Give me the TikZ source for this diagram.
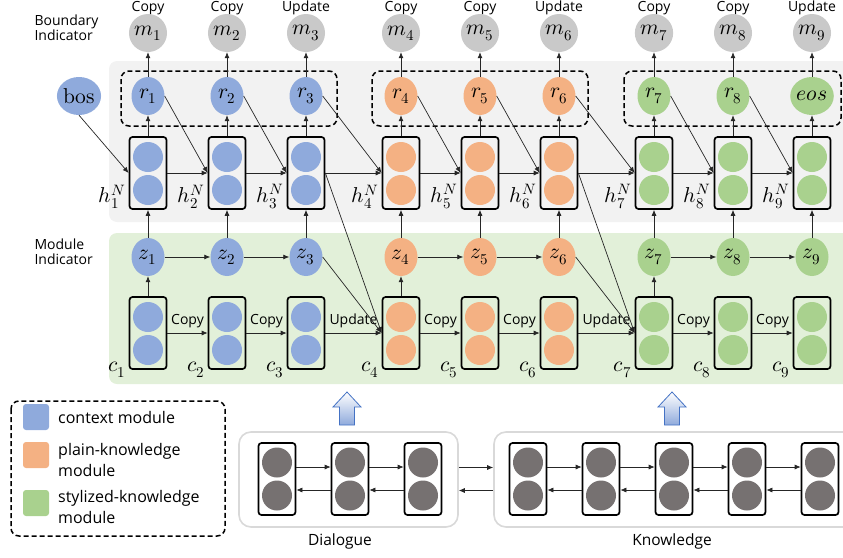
\documentclass[tikz,border=0pt]{standalone}
\usepackage{fontspec}
\usepackage{unicode-math}
\setmainfont{Open Sans}
\setmathfont{Latin Modern Math}
\usepackage{xcolor}
\usepackage{tikz}
\usetikzlibrary{arrows.meta}
\usetikzlibrary{shapes.geometric}
\definecolor{ctxblue}{HTML}{8FAADC}
\definecolor{plainorange}{HTML}{F4B183}
\definecolor{stylegreen}{HTML}{A9D18E}
\definecolor{bndgray}{HTML}{C9C9C9}
\definecolor{encgray}{HTML}{767171}
\definecolor{upperbg}{HTML}{F2F2F2}
\definecolor{lowerbg}{HTML}{E2F0D9}
\definecolor{panelline}{HTML}{D9D9D9}
\definecolor{blockblue}{HTML}{4472C4}
\tikzset{
  unit/.style={ellipse,minimum width=33pt,minimum height=38pt,inner sep=0pt,font=\fontsize{21.5}{23}\selectfont},
  cell/.style={draw,line width=1.7pt,rounded corners=3pt,minimum width=37pt,minimum height=72pt,inner sep=0pt},
  dot/.style={circle,minimum size=30pt,inner sep=0pt},
  arr/.style={-{Latex[length=6pt,width=5pt]},line width=0.7pt,draw=black!85},
  lbl/.style={font=\fontsize{14}{16}\selectfont},
  var/.style={font=\fontsize{21.5}{23}\selectfont,inner sep=1pt},
  groupbox/.style={dash pattern=on 5pt off 3pt,line width=1.5pt,rounded corners=8pt},
  panel/.style={draw=panelline,line width=1.6pt,rounded corners=12pt,fill=white},
  swatch/.style={rounded corners=3pt,minimum size=26pt,inner sep=0pt}
}

\begin{document}
\begin{tikzpicture}[x=1pt,y=-1pt]
    \useasboundingbox (0,0) rectangle (843,557);
    % backgrounds
    \fill[upperbg,rounded corners=8pt] (109,61) rectangle (870,222);
    \fill[lowerbg,rounded corners=8pt] (109,233) rectangle (870,384);
    \node[lbl,align=left,anchor=west] (bndtxt) at (31,28) {Boundary\\[-1pt]Indicator};
    \node[lbl,align=left,anchor=west] (modtxt) at (31,252) {Module\\[-1pt]Indicator};
    % dashed groups
    \draw[groupbox] (121,71) rectangle (337,126);
    \draw[groupbox] (372,71) rectangle (588,126);
    \draw[groupbox] (624,71) rectangle (841,126);
    \node[unit,fill=ctxblue] (bos) at (79,96) {$\symup{bos}$};
    % columns
    \foreach \i/\x/\col/\mop/\rl in {1/148/ctxblue/Copy/r_1,2/227/ctxblue/Copy/r_2,3/306/ctxblue/Update/r_3,
        4/401/plainorange/Copy/r_4,5/480/plainorange/Copy/r_5,6/559/plainorange/Update/r_6,
        7/654/stylegreen/Copy/r_7,8/733/stylegreen/Copy/r_8,9/812/stylegreen/Update/eos}{
        \node[lbl] (op\i) at (\x,8) {\mop};
        \node[unit,fill=bndgray] (m\i) at (\x,33) {$m_{\i}$};
        \node[unit,fill=\col] (r\i) at (\x,96) {$\rl$};
        \node[cell] (h\i) at (\x,173) {};
        \node[dot,fill=\col] (ht\i) at (\x,157) {};
        \node[dot,fill=\col] (hb\i) at (\x,190) {};
        \node[var,anchor=south east] (hl\i) at ([xshift=-2pt]h\i.south west) {$h_{\i}^{N}$};
        \node[unit,fill=\col] (z\i) at (\x,257) {$z_{\i}$};
        \node[cell] (c\i) at (\x,333) {};
        \node[dot,fill=\col] (ct\i) at (\x,317) {};
        \node[dot,fill=\col] (cb\i) at (\x,350) {};
        \node[var,anchor=east] (cl\i) at ([xshift=-2pt]c\i.south west) {$c_{\i}$};
        \draw[arr] (h\i) -- (r\i);
        \draw[arr] (r\i) -- (m\i);
        \draw[arr] (z\i) -- (h\i);
    }
    % connectors
    \draw[arr] (bos.south) -- (h1.west);
    \foreach \i/\j in {1/2,2/3,3/4,4/5,5/6,6/7,7/8,8/9}{
        \draw[arr] (h\i) -- (h\j);
        \draw[arr] (r\i.east) -- (h\j.west);
    }
    \foreach \i/\j/\op in {1/2/Copy,2/3/Copy,3/4/Update,4/5/Copy,5/6/Copy,6/7/Update,7/8/Copy,8/9/Copy}
        \draw[arr] (c\i) -- node[lbl,above=1pt] {\op} (c\j);
    \foreach \i/\j in {1/2,2/3,4/5,5/6,7/8,8/9}
        \draw[arr] (z\i) -- (z\j);
    \foreach \i/\j in {3/4,6/7}{
        \draw[arr] (h\i.east) -- (c\j.west);
        \draw[arr] (z\i.east) -- (c\j.west);
    }
    \foreach \i in {1,4,7}
        \draw[arr] (c\i) -- (z\i);
    % encoders
    \node[panel,minimum width=219pt,minimum height=95pt] (dlg) at (348.5,479.5) {};
    \node[panel,minimum width=361pt,minimum height=95pt] (knw) at (674.5,479.5) {};
    \foreach \i/\x in {1/277,2/350,3/423}{
        \node[cell] (d\i) at (\x,479) {};
        \node[dot,fill=encgray] (dt\i) at (\x,462.5) {};
        \node[dot,fill=encgray] (db\i) at (\x,495.5) {};
    }
    \foreach \i/\x in {1/528,2/601,3/674,4/747,5/820}{
        \node[cell] (k\i) at (\x,479) {};
        \node[dot,fill=encgray] (kt\i) at (\x,462.5) {};
        \node[dot,fill=encgray] (kb\i) at (\x,495.5) {};
    }
    \foreach \i/\j in {1/2,2/3}{
        \draw[arr] ([yshift=12pt]d\i.east) -- ([yshift=12pt]d\j.west);
        \draw[arr] ([yshift=-11pt]d\j.west) -- ([yshift=-11pt]d\i.east);
    }
    \foreach \i/\j in {1/2,2/3,3/4,4/5}{
        \draw[arr] ([yshift=12pt]k\i.east) -- ([yshift=12pt]k\j.west);
        \draw[arr] ([yshift=-11pt]k\j.west) -- ([yshift=-11pt]k\i.east);
    }
    \draw[arr] ([yshift=12pt]dlg.east) -- ([yshift=12pt]knw.west);
    \draw[arr] ([yshift=-11pt]knw.west) -- ([yshift=-11pt]dlg.east);
    \node[lbl,font=\fontsize{15.5}{18}\selectfont] (dlgtxt) at (340,541) {Dialogue};
    \node[lbl,font=\fontsize{15.5}{18}\selectfont] (knwtxt) at (672,541) {Knowledge};
    % block arrows
    \foreach \ax in {347,672}
        \draw[blockblue,line width=0.8pt,top color=white,bottom color=ctxblue]
            (\ax-7.5,425) -- (\ax-7.5,407) -- (\ax-14,407) -- (\ax,392) -- (\ax+14,407)
            -- (\ax+7.5,407) -- (\ax+7.5,425) -- cycle;
    % legend
    \draw[groupbox] (11,401) rectangle (225,536);
    \node[swatch,fill=ctxblue] (lgc) at (36,417) {};
    \node[swatch,fill=plainorange] (lgp) at (36,455) {};
    \node[swatch,fill=stylegreen] (lgs) at (36,503) {};
    \node[lbl,font=\fontsize{16}{21}\selectfont,anchor=west,inner sep=0pt] (lgct) at (58,417) {context module};
    \node[lbl,font=\fontsize{16}{21}\selectfont,anchor=west,align=left,inner sep=0pt] (lgpt) at (58,459.5) {plain-knowledge\\module};
    \node[lbl,font=\fontsize{16}{21}\selectfont,anchor=west,align=left,inner sep=0pt] (lgst) at (58,506.5) {stylized-knowledge\\module};
\end{tikzpicture}
\end{document}
